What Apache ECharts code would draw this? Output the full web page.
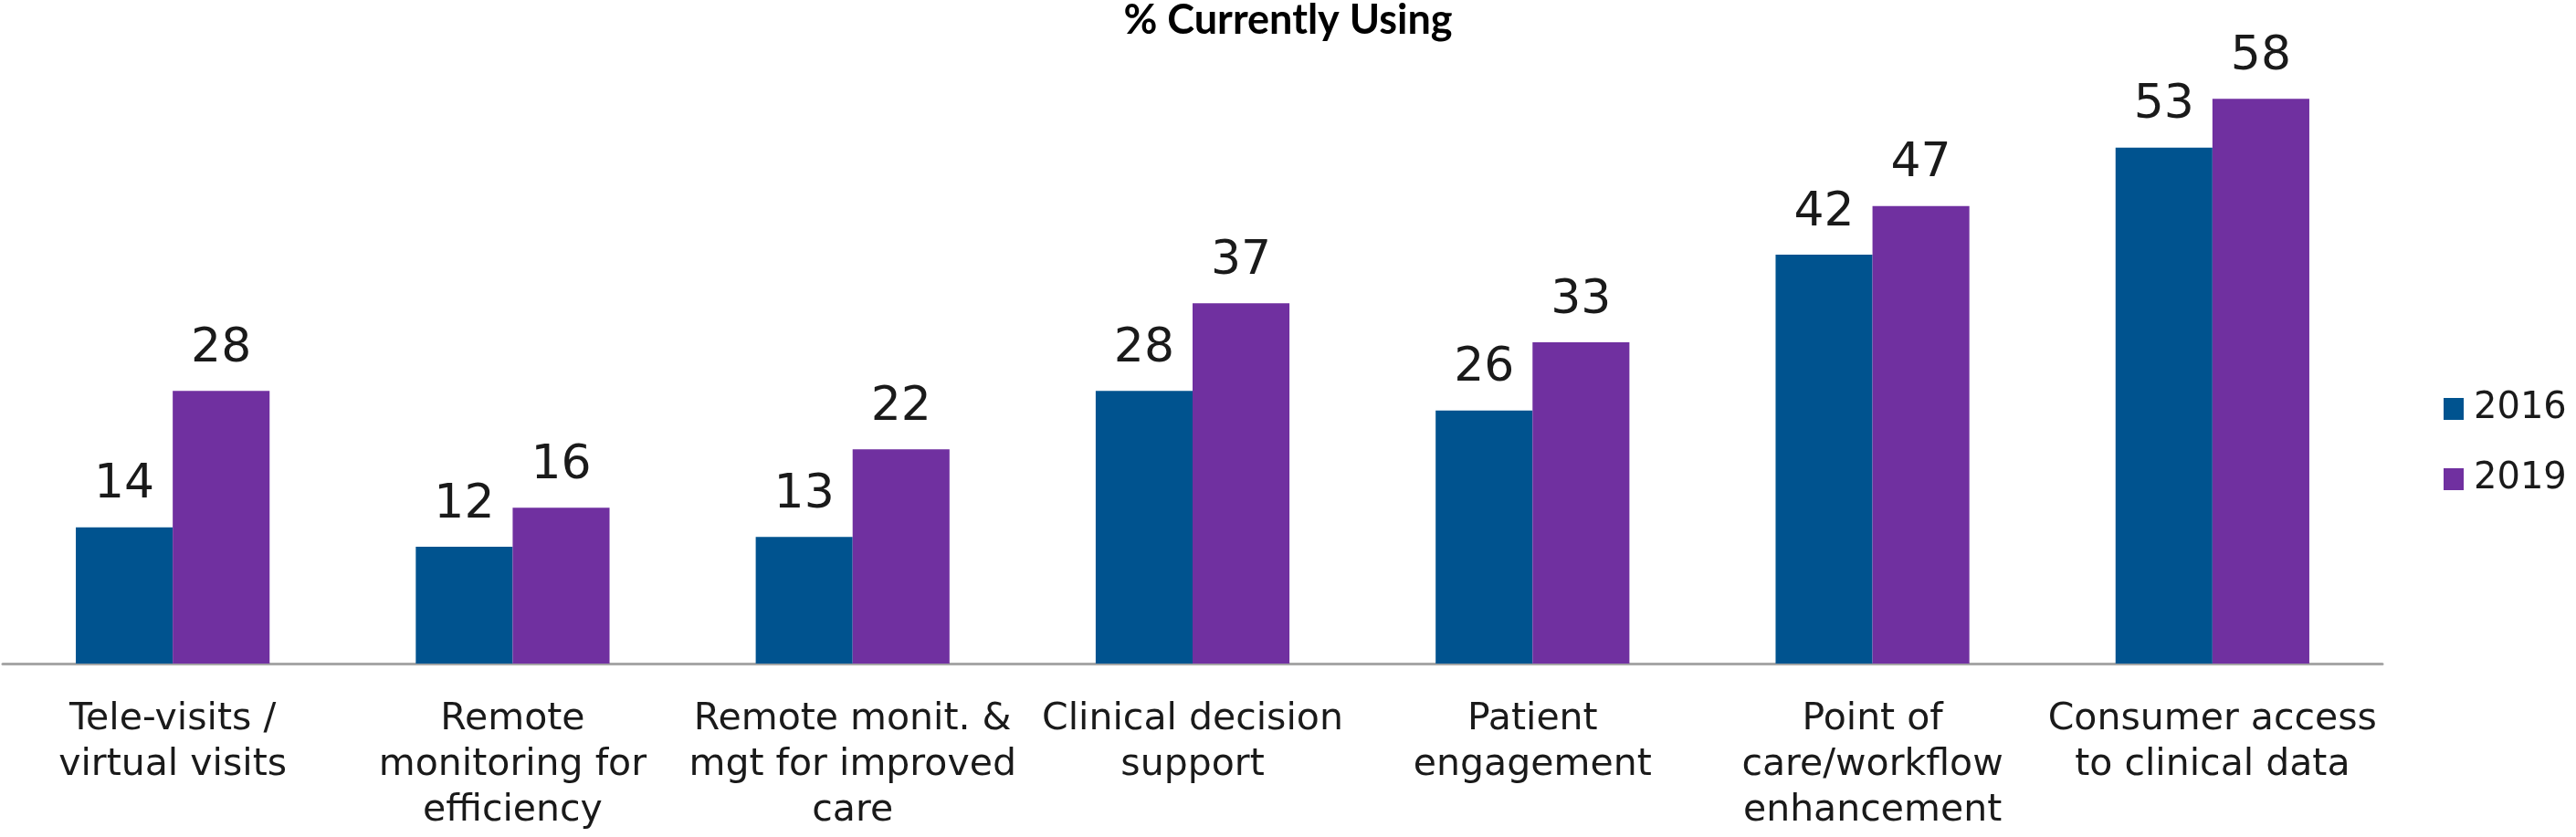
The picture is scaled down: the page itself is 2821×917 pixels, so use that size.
<!DOCTYPE html>
<html>
<head>
<meta charset="utf-8">
<script src="https://cdn.jsdelivr.net/npm/echarts@6/dist/echarts.min.js"></script>
<style>
  html, body { margin: 0; padding: 0; background: #ffffff; }
  #chart { width: 2821px; height: 917px; }
</style>
</head>
<body>
<div id="chart"></div>
<script>
const categories = [
  "Tele-visits /\nvirtual visits",
  "Remote\nmonitoring for\nefficiency",
  "Remote monit. &\nmgt for improved\ncare",
  "Clinical decision\nsupport",
  "Patient\nengagement",
  "Point of\ncare/workflow\nenhancement",
  "Consumer access\nto clinical data"
];
const seriesNames = ["2016", "2019"];
const values2016 = [14, 12, 13, 28, 26, 42, 53];
const values2019 = [28, 16, 22, 37, 33, 47, 58];
const titleText = "% Currently Using";

const chart = echarts.init(document.getElementById('chart'), null, { renderer: 'canvas' });

const labelStyle = {
  show: true,
  position: 'top',
  distance: 20,
  fontFamily: 'DejaVu Sans',
  fontSize: 52,
  lineHeight: 52,
  color: '#1a1a1a'
};

chart.setOption({
  backgroundColor: '#ffffff',
  animation: false,
  title: {
    text: titleText,
    left: 'center',
    top: 0,
    padding: 0,
    textStyle: {
      fontFamily: 'Lato',
      fontWeight: 'bold',
      fontSize: 45,
      color: '#000000'
    }
  },
  legend: {
    data: seriesNames,
    orient: 'vertical',
    left: 2676,
    top: 428,
    padding: 0,
    itemWidth: 22,
    itemHeight: 24,
    itemGap: 37,
    icon: 'rect',
    textStyle: {
      fontFamily: 'DejaVu Sans',
      fontSize: 40,
      lineHeight: 40,
      color: '#1a1a1a',
      padding: [0, 0, 0, 6]
    }
  },
  grid: {
    left: 3,
    right: 212,
    top: 87,
    bottom: 190,
    containLabel: false
  },
  xAxis: {
    type: 'category',
    data: categories,
    axisLine: { show: true, lineStyle: { color: '#a6a6a6', width: 3 } },
    axisTick: { show: false },
    axisLabel: {
      interval: 0,
      margin: 36,
      fontFamily: 'DejaVu Sans',
      fontSize: 41,
      lineHeight: 50,
      color: '#1a1a1a',
      align: 'center'
    }
  },
  yAxis: {
    type: 'value',
    min: 0,
    max: 60,
    show: false,
    splitLine: { show: false }
  },
  series: [
    {
      name: seriesNames[0],
      type: 'bar',
      data: values2016,
      barGap: '0%',
      barCategoryGap: '43%',
      itemStyle: { color: '#00538f' },
      label: labelStyle
    },
    {
      name: seriesNames[1],
      type: 'bar',
      data: values2019,
      barGap: '0%',
      barCategoryGap: '43%',
      itemStyle: { color: '#7030a0' },
      label: labelStyle
    }
  ]
});
</script>
</body>
</html>
